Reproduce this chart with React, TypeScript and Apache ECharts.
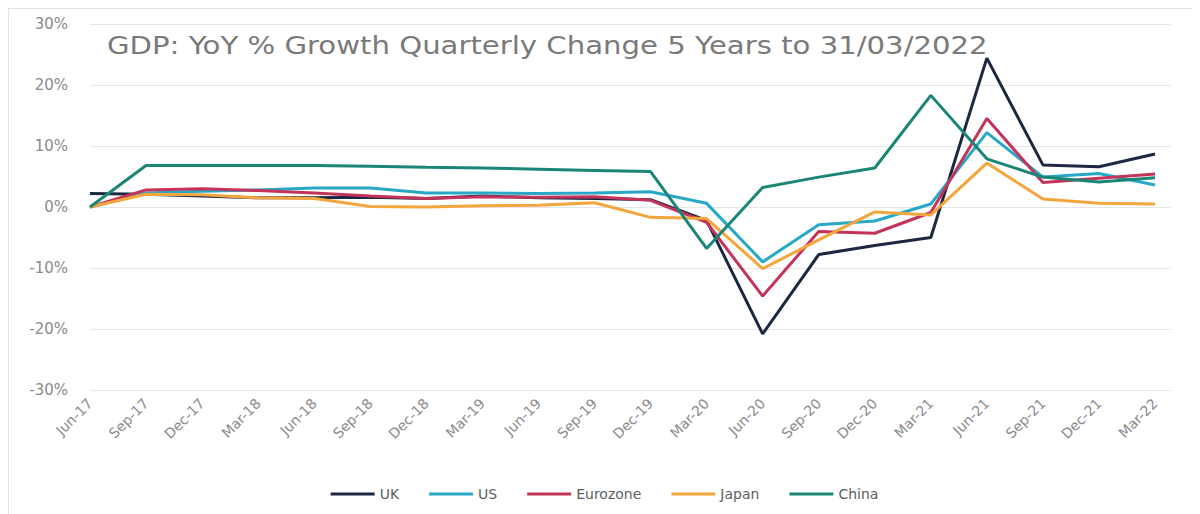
import React, { useEffect, useRef } from "react";
import * as echarts from "echarts";

// Quarter-end labels along the horizontal axis
const categories = [
  "Jun-17", "Sep-17", "Dec-17", "Mar-18", "Jun-18", "Sep-18", "Dec-18",
  "Mar-19", "Jun-19", "Sep-19", "Dec-19", "Mar-20", "Jun-20", "Sep-20",
  "Dec-20", "Mar-21", "Jun-21", "Sep-21", "Dec-21", "Mar-22",
];

// Year-on-year GDP growth, % per quarter
const ukValues = [2.2, 2.1, 1.8, 1.5, 1.5, 1.6, 1.4, 1.8, 1.5, 1.4, 1.2, -2.2, -20.8, -7.8, -6.3, -5.0, 24.4, 6.9, 6.6, 8.7];
const usValues = [0.0, 2.3, 2.6, 2.8, 3.1, 3.1, 2.3, 2.3, 2.2, 2.3, 2.5, 0.6, -9.0, -2.9, -2.3, 0.5, 12.2, 4.9, 5.5, 3.6];
const eurozoneValues = [0.0, 2.8, 3.0, 2.7, 2.3, 1.8, 1.4, 1.7, 1.6, 1.7, 1.1, -2.5, -14.6, -4.0, -4.3, -0.9, 14.5, 4.0, 4.7, 5.4];
const japanValues = [0.0, 2.1, 2.0, 1.5, 1.4, 0.1, 0.0, 0.2, 0.3, 0.7, -1.7, -1.9, -10.1, -5.4, -0.8, -1.3, 7.2, 1.3, 0.6, 0.5];
const chinaValues = [0.0, 6.8, 6.8, 6.8, 6.8, 6.7, 6.5, 6.4, 6.2, 6.0, 5.8, -6.8, 3.2, 4.9, 6.4, 18.3, 7.9, 4.9, 4.1, 4.8];

// Y-axis ticks
const yTicks = { min: -30, max: 30, step: 10 };

const titleText = "GDP: YoY % Growth Quarterly Change 5 Years to 31/03/2022";

const seriesDefs = [
  { name: "UK", values: ukValues, color: "#1c2742" },
  { name: "US", values: usValues, color: "#27a8c6" },
  { name: "Eurozone", values: eurozoneValues, color: "#c4345a" },
  { name: "Japan", values: japanValues, color: "#f3a53e" },
  { name: "China", values: chinaValues, color: "#1b8676" },
];

const FONT = "'DejaVu Sans', 'Noto Sans', sans-serif";

export default function App() {
  const ref = useRef<HTMLDivElement>(null);

  useEffect(() => {
    if (!ref.current) return;
    const chart = echarts.init(ref.current, undefined, { renderer: "svg" });
    chart.setOption({
      animation: false,
      backgroundColor: "#ffffff",
      graphic: [
        {
          type: "text",
          x: 98,
          y: 36,
          scaleX: 1.215,
          silent: true,
          style: {
            text: titleText,
            font: `normal 24px ${FONT}`,
            fill: "#7a7a7a",
            verticalAlign: "middle",
          },
        },
      ],
      grid: { left: 81, right: 29, top: 15, bottom: 124 },
      legend: {
        left: "center",
        top: 473,
        itemWidth: 44,
        itemHeight: 3,
        itemGap: 30,
        icon: "rect",
        textStyle: { color: "#5e5e5e", fontSize: 14, fontFamily: FONT },
        data: seriesDefs.map((s) => s.name),
      },
      xAxis: {
        type: "value",
        min: 0,
        max: 19.285,
        interval: 1,
        axisLine: { show: false },
        axisTick: { show: false },
        splitLine: { show: false },
        axisLabel: {
          rotate: 45,
          margin: 11,
          color: "#8a8a8a",
          fontSize: 14,
          fontFamily: FONT,
          showMaxLabel: false,
          formatter: (v: number) =>
            Number.isInteger(v) && categories[v] ? categories[v] : "",
        },
      },
      yAxis: {
        type: "value",
        min: yTicks.min,
        max: yTicks.max,
        interval: yTicks.step,
        axisLine: { show: false },
        axisTick: { show: false },
        splitLine: { lineStyle: { color: "#e6e6e6", width: 1 } },
        axisLabel: {
          margin: 22,
          color: "#8a8a8a",
          fontSize: 15,
          fontFamily: FONT,
          formatter: "{value}%",
        },
      },
      series: seriesDefs.map((s) => ({
        name: s.name,
        type: "line",
        symbol: "none",
        color: s.color,
        lineStyle: { width: 3, color: s.color },
        data: s.values.map((v, i) => [i, v]),
      })),
    });
    return () => chart.dispose();
  }, []);

  return (
    <div
      ref={ref}
      style={{
        width: 1192,
        height: 506,
        boxSizing: "border-box",
        borderLeft: "1px solid #e2e2e2",
        borderTop: "1px solid #e2e2e2",
      }}
    />
  );
}
